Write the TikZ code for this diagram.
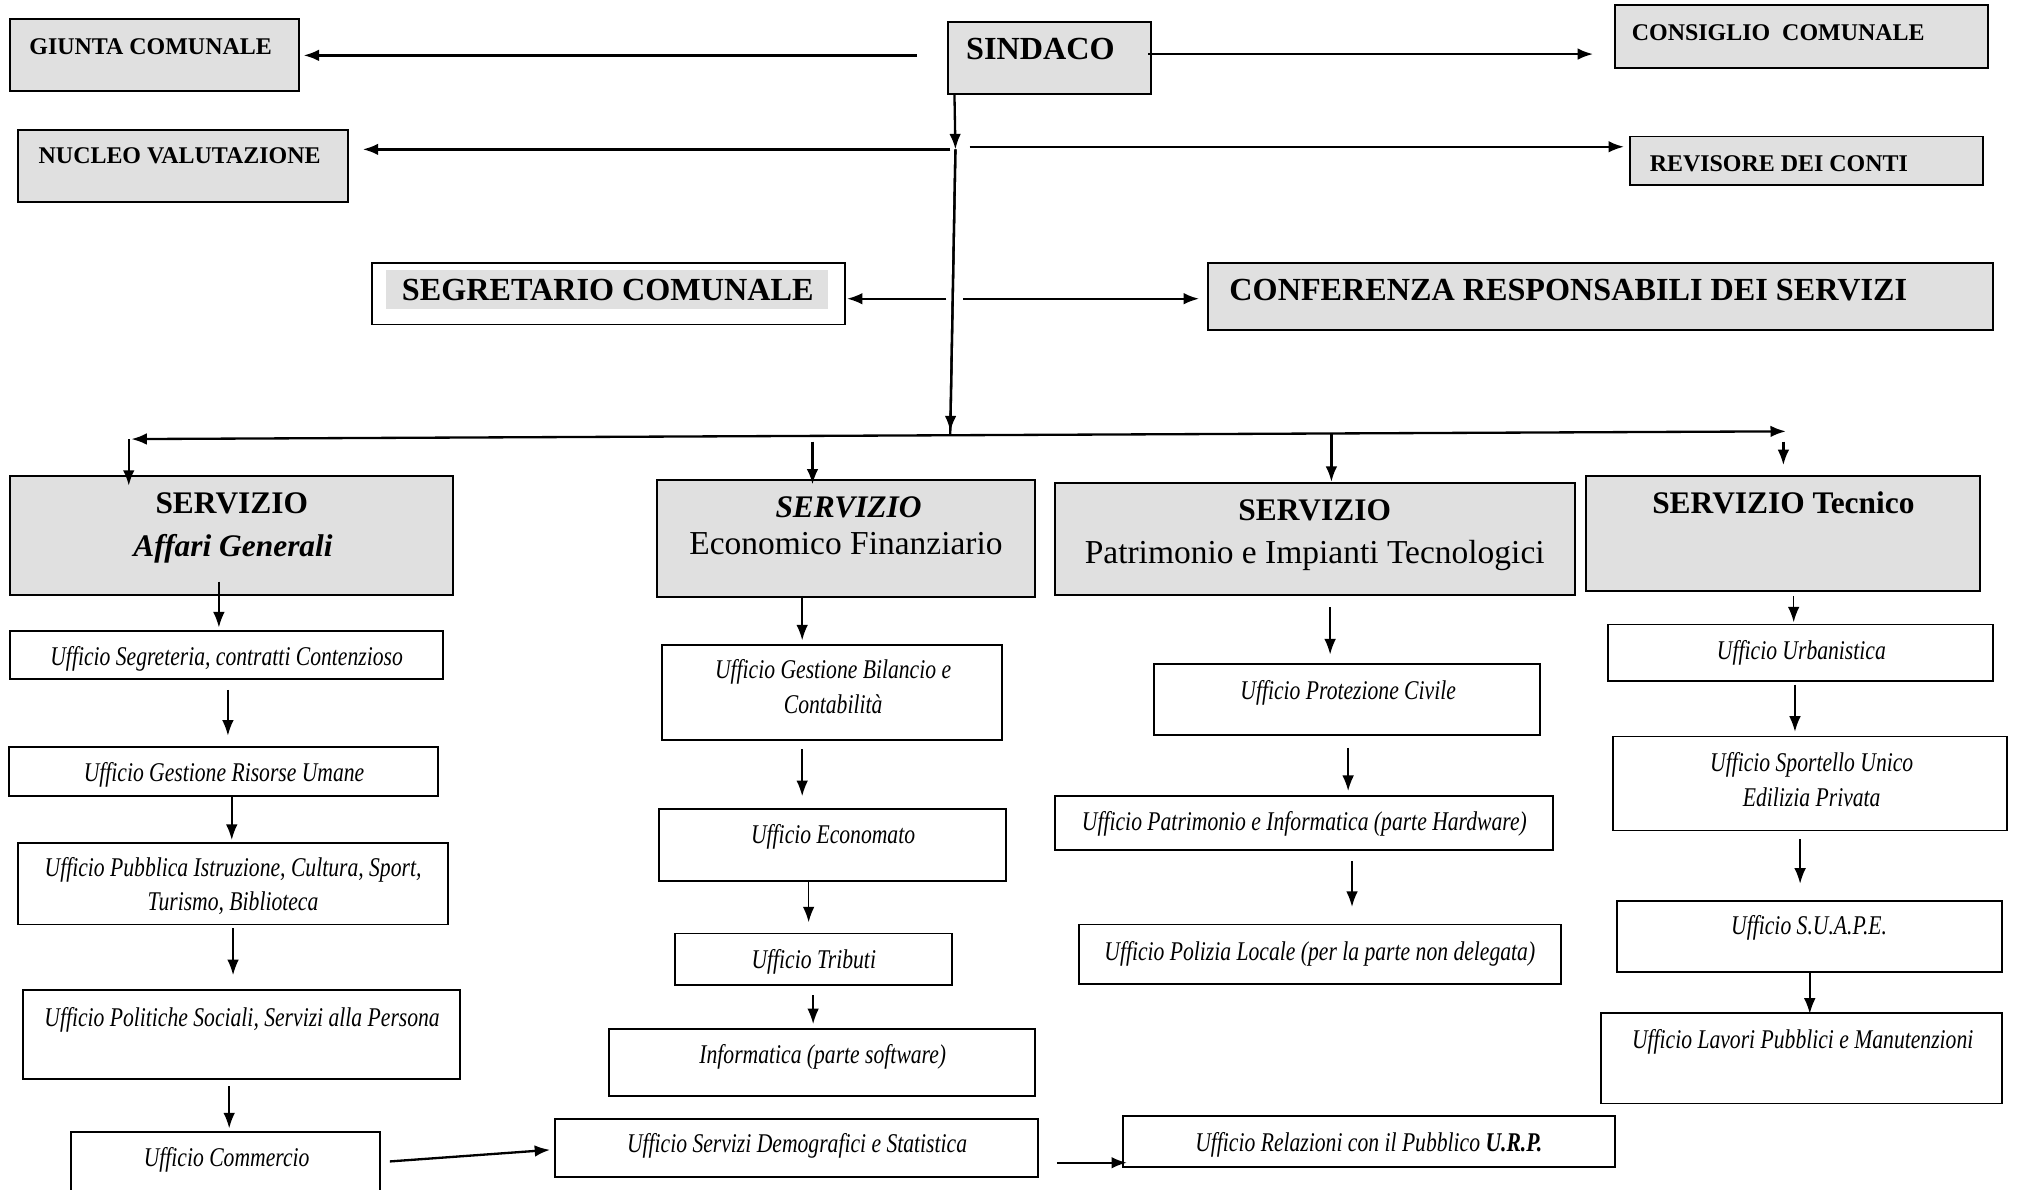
\documentclass[tikz,border=0pt]{standalone}
\usepackage{fontspec}
\setmainfont{Liberation Serif}
\newfontfamily\ofont{Liberation Serif}[FakeStretch=0.8]
\usetikzlibrary{arrows.meta,fit,calc}
\definecolor{boxgray}{HTML}{E0E0E0}
\tikzset{
 gbox/.style={draw, fill=boxgray, line width=0.75pt, inner sep=0pt},
 wbox/.style={draw, fill=white, line width=0.75pt, inner sep=0pt},
 txt/.style={inner sep=0pt, align=center},
 hs/.style={txt, font=\fontsize{9.3}{11}\selectfont\bfseries, text height=6.1pt, text depth=0pt},
 hb/.style={txt, font=\fontsize{12.5}{15}\selectfont\bfseries, text height=8.3pt, text depth=0pt},
 sv/.style={txt, font=\fontsize{12.2}{15}\selectfont\bfseries, text height=8pt, text depth=0pt},
 svi/.style={txt, font=\fontsize{12.2}{15}\selectfont\bfseries\itshape, text height=8pt, text depth=0pt},
 sr/.style={txt, font=\fontsize{13}{15}\selectfont, text height=8.6pt, text depth=0pt},
 of/.style={txt, font=\ofont\itshape\fontsize{10.5}{13}\selectfont, text height=7pt, text depth=0pt},
 arrT/.style={line width=0.9pt, -{Latex[length=6pt,width=4.5pt]}},
 arrO/.style={line width=0.6pt, -{Latex[length=6pt,width=4.5pt]}},
}
\begin{document}
\begin{tikzpicture}[x=0.5pt,y=-0.5pt]
\useasboundingbox (0,0) rectangle (1568,924);
% ---------- top level ----------
\node[gbox, fit={(8,15) (232,71)}] (giunta) {};
\node[hs] (giuntaT) at (117,36) {GIUNTA COMUNALE};
\node[gbox, fit={(736,17) (894,73)}] (sindaco) {};
\node[hb] (sindacoT) at (808,38) {SINDACO};
\node[gbox, fit={(1254,4) (1544,53)}] (consiglio) {};
\node[hs] (consiglioT) at (1381,25) {CONSIGLIO\ \ COMUNALE};
\node[gbox, fit={(14,101) (270,157)}] (nucleo) {};
\node[hs] (nucleoT) at (139.5,121) {NUCLEO VALUTAZIONE};
\node[gbox, fit={(1266,106) (1540,144)}] (revisore) {};
\node[hs] (revisoreT) at (1381.5,127) {REVISORE DEI CONTI};
\node[wbox, fit={(289,204) (656,252)}] (segr) {};
\fill[boxgray] (300,210) rectangle (643,240);
\node[hb] (segrT) at (472,225) {SEGRETARIO COMUNALE};
\node[gbox, fit={(938,204) (1548,256)}] (conf) {};
\node[hb] (confT) at (1218,225) {CONFERENZA RESPONSABILI DEI SERVIZI};
% ---------- services ----------
\node[gbox, fit={(8,370) (352,462)}] (affari) {};
\node[sv] (affariT1) at (180,391) {SERVIZIO};
\node[svi] (affariT2) at (181,424) {Affari Generali};
\node[gbox, fit={(510,373) (804,464)}] (econ) {};
\node[svi] (econT1) at (659,394) {SERVIZIO};
\node[sr] (econT2) at (657,422) {Economico Finanziario};
\node[gbox, fit={(819,375) (1223,462)}] (patrim) {};
\node[sv] (patrimT1) at (1021,396) {SERVIZIO};
\node[sr] (patrimT2) at (1021,429) {Patrimonio e Impianti Tecnologici};
\node[gbox, fit={(1232,370) (1538,459)}] (tecnico) {};
\node[sv] (tecnicoT) at (1385,391) {SERVIZIO Tecnico};
% ---------- offices col 1 ----------
\node[wbox, fit={(8,490) (344,527)}] (segret) {};
\node[of] at (176,510) {Ufficio Segreteria, contratti Contenzioso};
\node[wbox, fit={(7,580) (340,618)}] (risorse) {};
\node[of] at (174,600) {Ufficio Gestione Risorse Umane};
\node[wbox, fit={(14,655) (348,718)}] (pubbl) {};
\node[of] at (181,674) {Ufficio Pubblica Istruzione, Cultura, Sport,};
\node[of] at (181,700) {Turismo, Biblioteca};
\node[wbox, fit={(18,769) (357,838)}] (polit) {};
\node[of] at (188,790) {Ufficio Politiche Sociali, Servizi alla Persona};
\node[wbox, fit={(55,879) (295,935)}] (comm) {};
\node[of] at (176,899) {Ufficio Commercio};
% ---------- offices col 2 ----------
\node[wbox, fit={(514,501) (778,575)}] (bil) {};
\node[of] at (647,520) {Ufficio Gestione Bilancio e};
\node[of] at (647,547) {Contabilità};
\node[wbox, fit={(512,628) (781,684)}] (economato) {};
\node[of] at (647,648) {Ufficio Economato};
\node[wbox, fit={(524,725) (739,765)}] (tributi) {};
\node[of] at (632,745) {Ufficio Tributi};
\node[wbox, fit={(473,799) (804,851)}] (inform) {};
\node[of] at (639,819) {Informatica (parte software)};
\node[wbox, fit={(431,869) (806,914)}] (demo) {};
\node[of] at (619,888) {Ufficio Servizi Demografici e Statistica};
% ---------- offices col 3 ----------
\node[wbox, fit={(896,516) (1196,571)}] (prot) {};
\node[of] at (1047,536) {Ufficio Protezione Civile};
\node[wbox, fit={(819,618) (1206,660)}] (patrinf) {};
\node[of] at (1013,638) {Ufficio Patrimonio e Informatica (parte Hardware)};
\node[wbox, fit={(838,718) (1212,764)}] (polizia) {};
\node[of] at (1025,739) {Ufficio Polizia Locale (per la parte non delegata)};
\node[wbox, fit={(872,867) (1254,906)}] (urp) {};
\node[of] at (1063,887) {Ufficio Relazioni con il Pubblico \textbf{U.R.P.}};
% ---------- offices col 4 ----------
\node[wbox, fit={(1249,485) (1548,529)}] (urban) {};
\node[of] at (1399,505) {Ufficio Urbanistica};
\node[wbox, fit={(1253,572) (1559,645)}] (sport) {};
\node[of] at (1407,592) {Ufficio Sportello Unico};
\node[of] at (1407,619) {Edilizia Privata};
\node[wbox, fit={(1256,700) (1555,755)}] (suape) {};
\node[of] at (1405,719) {Ufficio S.U.A.P.E.};
\node[wbox, fit={(1243,787) (1555,857)}] (lavori) {};
\node[of] at (1400,807) {Ufficio Lavori Pubblici e Manutenzioni};
% ---------- junctions ----------
\coordinate (jA) at (742,116);
\coordinate (jB) at (738,335);
\coordinate (jS) at (740,232);
\coordinate (busL) at (102,341);
\coordinate (busR) at (1387,335);
% ---------- top connectors ----------
\draw[arrT] ([xshift=-11.5pt]sindaco.west |- giunta.east) -- ([xshift=1.5pt]giunta.east);
\draw[arrT] ([xshift=-1.5pt,yshift=1.5pt]sindaco.east) -- ([xshift=-8pt,yshift=1.5pt]consiglio.west |- sindaco.east);
\draw[arrT] ([xshift=3pt]sindaco.south west) -- (jA);
\draw[line width=0.9pt] (jA) -- ([yshift=-1pt]jB);
\draw[arrT] (jA) -- (jB);
\draw[arrT] ([xshift=-2pt]jA) -- ([xshift=5.5pt]nucleo.east |- jA);
\draw[arrT] ([xshift=5.5pt,yshift=1pt]jA) -- ([xshift=-2pt,yshift=1pt]revisore.west |- jA);
\draw[arrT] ([xshift=-2.5pt]jS) -- ([xshift=0.5pt]segr.east |- jS);
\draw[arrT] ([xshift=4pt]jS) -- ([xshift=-3pt]conf.west |- jS);
\draw[line width=0.9pt, {Latex[length=6pt,width=4.5pt]}-{Latex[length=6pt,width=4.5pt]}] (busL) -- (busR);
\draw[arrT] ([xshift=-1pt]busL) -- ([xshift=-1pt,yshift=-4pt]busL |- affari.north);
\draw[arrT] ([xshift=-13pt,yshift=-1pt]econ.north |- busL) -- ([xshift=-13pt,yshift=-2pt]econ.north);
\draw[arrT] ([xshift=6.5pt,yshift=-1pt]patrim.north |- busR) -- ([xshift=6.5pt]patrim.north);
\draw[arrT] ([yshift=-4pt]tecnico.north |- busR) -- ([yshift=4pt]tecnico.north);
% ---------- office connectors col 1 ----------
\draw[arrO] ([xshift=-5pt,yshift=5.5pt]affari.south) -- ([xshift=-5pt,yshift=1pt]affari.south |- segret.north);
\draw[arrO] ([xshift=0.5pt,yshift=-4pt]segret.south) -- ([xshift=0.5pt,yshift=4pt]segret.south |- risorse.north);
\draw[arrO] ([xshift=3.25pt]risorse.south) -- ([xshift=3.25pt,yshift=1pt]risorse.south |- pubbl.north);
\draw[arrO] ([yshift=-1pt]pubbl.south) -- ([yshift=5.5pt]pubbl.south |- polit.north);
\draw[arrO] ([xshift=-4.75pt,yshift=-2.5pt]polit.south) -- ([xshift=-4.75pt,yshift=1pt]polit.south |- comm.north);
\draw[arrT] ([xshift=3.5pt,yshift=2.5pt]comm.east) -- ([xshift=-1.5pt,yshift=-0.75pt]demo.west);
% ---------- col 2 ----------
\draw[arrO] ([xshift=-17pt,yshift=1pt]econ.south) -- ([xshift=-17pt,yshift=1.5pt]econ.south |- bil.north);
\draw[arrO] ([xshift=-11.5pt,yshift=-3pt]bil.south) -- ([xshift=-11.5pt,yshift=4.5pt]bil.south |- economato.north);
\draw[arrO] ([xshift=-9.25pt]economato.south) -- ([xshift=-9.25pt,yshift=4pt]economato.south |- tributi.north);
\draw[arrO] ([yshift=-3.5pt]tributi.south) -- ([yshift=1.5pt]tributi.south |- inform.north);
\draw[arrT] ([xshift=7pt,yshift=-5.75pt]demo.east) -- ([xshift=2pt,yshift=-8.25pt]urp.west);
% ---------- col 3 ----------
\draw[arrO] ([xshift=6pt,yshift=-4.5pt]patrim.south) -- ([xshift=6pt,yshift=3.5pt]patrim.south |- prot.north);
\draw[arrO] ([xshift=0.5pt,yshift=-4.5pt]prot.south) -- ([xshift=0.5pt,yshift=1.5pt]prot.south |- patrinf.north);
\draw[arrO] ([xshift=18.75pt,yshift=-4pt]patrinf.south) -- ([xshift=18.75pt,yshift=6.5pt]patrinf.south |- polizia.north);
% ---------- col 4 ----------
\draw[arrO] ([xshift=4pt,yshift=-1.5pt]tecnico.south) -- ([xshift=4pt,yshift=0.5pt]tecnico.south |- urban.north);
\draw[arrO] ([xshift=-2.25pt,yshift=-1pt]urban.south) -- ([xshift=-2.25pt,yshift=1.5pt]urban.south |- sport.north);
\draw[arrO] ([xshift=-4pt,yshift=-3pt]sport.south) -- ([xshift=-4pt,yshift=6.5pt]sport.south |- suape.north);
\draw[arrO] (suape.south) -- ([yshift=-0.5pt]suape.south |- lavori.north);
\end{tikzpicture}
\end{document}
